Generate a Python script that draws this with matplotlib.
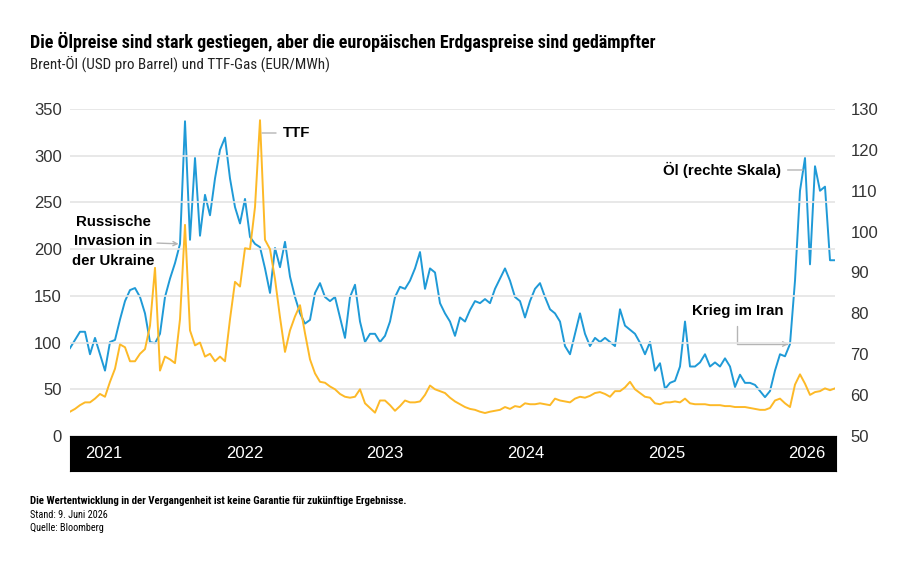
import matplotlib
matplotlib.use('Agg')
import matplotlib.pyplot as plt
import numpy as np
import pandas as pd
from matplotlib import font_manager

# Fonts: condensed face for title/footer if available
names = {f.name for f in font_manager.fontManager.ttflist}
narrow = 'Roboto'
for cand in ['Roboto Condensed', 'Liberation Sans Narrow']:
    if cand in names:
        narrow = cand
        break
plt.rcParams['font.family'] = ['Liberation Sans', 'DejaVu Sans']

BLUE = '#1f9ad7'
YELLOW = '#fdb927'

# Brent (USD/Barrel, rechte Skala), etwa alle 12 Tage
brent = [71.5, 73.5, 75.5, 75.5, 70, 74, 70, 66, 73, 73.5,
         78.5, 83, 85.7, 86.2, 84, 80, 73, 72.7, 75, 84,
         88.5, 92.3, 97, 127, 98, 118, 99, 109, 104, 113,
         120, 123, 113, 106, 102, 108, 98.7, 97, 96.2, 91,
         85, 96, 91.3, 97.5, 89, 84, 80, 77.5, 78.4, 85,
         87.4, 84, 83, 84, 79, 74, 84, 87, 78, 73,
         75, 75, 73, 74.5, 78, 84, 86.5, 86, 88, 91,
         95, 86, 91, 90, 82.5, 80, 78, 74.5, 79, 78,
         80.8, 83, 82.5, 83.5, 82.5, 86, 88.5, 91, 88, 84,
         83, 79, 83, 86, 87.4, 84, 81, 80, 78, 72,
         70, 75, 80, 75, 72, 74, 73, 74, 73, 72,
         81, 77, 76, 75, 72.8, 70, 73, 66, 67.8, 61.5,
         63, 63.5, 67, 78, 67, 67, 68, 70, 67, 68,
         67, 69, 67, 62, 65, 63, 63, 62.5, 61, 59.5,
         61, 66, 70, 69.5, 72.5, 88, 110, 118, 92, 116,
         110, 111, 93, 93]

# TTF-Gas (EUR/MWh, linke Skala)
ttf = [26, 29, 33, 36, 36, 40, 45, 42, 58, 72,
       98, 95, 80, 80, 88, 93, 118, 180, 70, 85,
       82, 78, 125, 226, 113, 97, 100, 85, 88, 80,
       85, 80, 125, 165, 160, 201, 200, 245, 338, 210,
       200, 168, 127, 90, 113, 128, 140, 110, 82, 67,
       58, 57, 53, 50, 45, 42, 41, 42, 50, 35,
       30, 25, 38, 38, 33, 27, 32, 38, 36, 36,
       37, 44, 54, 50, 48, 46, 41, 37, 34, 31,
       29, 28, 26, 24.6, 26, 27, 28, 31, 29, 32,
       31, 35, 34, 34, 35, 34, 33, 40, 38, 37,
       36, 40, 42, 41, 43, 46, 47, 45, 42, 48,
       48, 52, 58, 50, 46, 42, 41, 35, 34, 36,
       36, 37, 36, 40, 35, 34, 34, 34, 33, 33,
       33, 32, 32, 31, 31, 31, 30, 29, 28, 28,
       30, 38, 40, 35, 31, 55, 66, 56, 44, 47,
       48, 51, 49, 51]

dates = pd.date_range('2021-06-09', '2026-06-09', periods=len(brent))
years = ['2021', '2022', '2023', '2024', '2025', '2026']
i_invasion = 22
i_iran = 144

fig = plt.figure(figsize=(9.1, 5.79), dpi=100)
ax = fig.add_axes([70/910, 1-436/579, 765/910, 327/579])
ax2 = ax.twinx()
ax.set_zorder(ax2.get_zorder() + 1)
ax.patch.set_visible(False)

ax2.plot(dates, brent, color=BLUE, lw=1.4)
ax.plot(dates, ttf, color=YELLOW, lw=1.4)

ax.set_xlim(dates[0], dates[-1])
ax.set_ylim(0, 350)
ax2.set_ylim(50, 130)
ax.set_yticks(range(0, 351, 50))
ax2.set_yticks(range(50, 131, 10))
ax.set_xticks([])
ax.grid(axis='y', color='#e4e4e4', lw=1.2)
ax.set_axisbelow(True)
for a in (ax, ax2):
    for s in a.spines.values():
        s.set_visible(False)
ax.tick_params(axis='y', length=0, pad=6, labelsize=12, labelcolor='#333333')
ax2.tick_params(axis='y', length=0, pad=11, labelsize=12, labelcolor='#333333')

# black year band
band = fig.add_axes([70/910, 1-471/579, 766/910, 35/579])
band.set_facecolor('black')
band.set_xticks([])
band.set_yticks([])
for s in band.spines.values():
    s.set_color('black')
for fx, y in zip(np.linspace(0.044, 0.962, len(years)), years):
    band.text(fx, 0.5, y, color='white', fontsize=12, ha='center', va='center',
              transform=band.transAxes)

# annotations
afont = dict(fontsize=10.8, fontweight='bold', color='black')
grey = '#b5b5b5'
arrow = '->,head_length=0.3,head_width=0.15'
ax.text(0.0562, 0.596, 'Russische\nInvasion in\nder Ukraine', ha='center', va='center',
        linespacing=1.5, transform=ax.transAxes, **afont)
ax2.annotate('', xy=(dates[i_invasion], brent[i_invasion]), xycoords='data',
             xytext=(0.1137, 0.590), textcoords='axes fraction',
             arrowprops=dict(arrowstyle=arrow, color=grey, lw=1, shrinkA=0, shrinkB=1))
ax.annotate('TTF', xy=(0.251, 0.9266), xycoords='axes fraction',
            xytext=(0.2784, 0.9266), textcoords='axes fraction', ha='left', va='center',
            arrowprops=dict(arrowstyle='-', color=grey, lw=1, shrinkA=3, shrinkB=0), **afont)
ax.annotate('Öl (rechte Skala)', xy=(0.958, 0.8135), xycoords='axes fraction',
            xytext=(0.929, 0.8135), textcoords='axes fraction', ha='right', va='center',
            arrowprops=dict(arrowstyle='-', color=grey, lw=1, shrinkA=3, shrinkB=0), **afont)
ax2.annotate('Krieg im Iran', xy=(dates[i_iran], brent[i_iran]), xycoords='data',
             xytext=(0.8725, 0.382), textcoords='axes fraction', ha='center', va='center',
             arrowprops=dict(arrowstyle=arrow, color=grey, lw=1,
                             connectionstyle='angle,angleA=90,angleB=0,rad=0',
                             shrinkA=4, shrinkB=1), **afont)

# titles and footer
fig.text(30/910, 1-42/579, 'Die Ölpreise sind stark gestiegen, aber die europäischen Erdgaspreise sind gedämpfter',
         fontsize=13, fontweight='bold', family=narrow, va='center')
fig.text(30/910, 1-65/579, 'Brent-Öl (USD pro Barrel) und TTF-Gas (EUR/MWh)',
         fontsize=10.9, family=narrow, va='center', color='#222222')
fig.text(30/910, 1-501/579, 'Die Wertentwicklung in der Vergangenheit ist keine Garantie für zukünftige Ergebnisse.',
         fontsize=7.8, fontweight='bold', family=narrow, va='center')
fig.text(30/910, 1-515/579, 'Stand: 9. Juni 2026', fontsize=7.4, family=narrow, va='center')
fig.text(30/910, 1-528/579, 'Quelle: Bloomberg', fontsize=7.4, family=narrow, va='center')

fig.savefig('out.png', dpi=100, facecolor='white')
